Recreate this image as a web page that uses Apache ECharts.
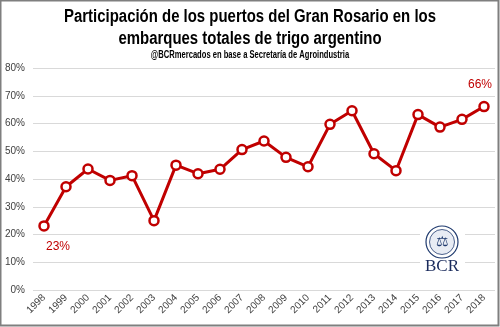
<!DOCTYPE html>
<html><head><meta charset="utf-8">
<script src="https://cdn.jsdelivr.net/npm/echarts@6/dist/echarts.min.js"></script>
<style>html,body{margin:0;padding:0;background:#fff}#c{width:500px;height:327px}</style>
</head><body><div id="c"></div>
<script>
const years = ['1998','1999','2000','2001','2002','2003','2004','2005','2006','2007','2008','2009','2010','2011','2012','2013','2014','2015','2016','2017','2018'];
const share = [23.1,37.2,43.6,39.5,41.2,25.0,45.0,41.9,43.5,50.6,53.7,47.8,44.4,59.7,64.6,49.1,43.0,63.2,58.7,61.5,66.1];
const yTicks = [0,10,20,30,40,50,60,70,80];
const titleLine1 = 'Participación de los puertos del Gran Rosario en los';
const titleLine2 = 'embarques totales de trigo argentino';
const subText = '@BCRmercados en base a Secretaría de Agroindustria';

const chart = echarts.init(document.getElementById('c'), null, {renderer:'canvas'});
const red = '#C00000';
const sans = "'Liberation Sans', Arial, sans-serif";
const dataPts = share.map((v,i)=>{
  const o = {value:v};
  if (i===0) o.label = {show:true, position:'bottom', distance:9, offset:[14,0], formatter:'23%'};
  if (i===share.length-1) o.label = {show:true, position:'top', distance:10, offset:[-4,0], formatter:'66%'};
  return o;
});
chart.setOption({
  animation:false,
  grid:{left:33, right:5, top:68, bottom:37},
  xAxis:{type:'category', data:years, boundaryGap:true,
    axisLine:{show:false}, axisTick:{show:false},
    axisLabel:{rotate:45, fontSize:10, color:'#404040', interval:0, margin:6, fontFamily:sans}},
  yAxis:{type:'value', min:0, max:80, interval:10,
    axisLine:{show:false}, axisTick:{show:false},
    splitLine:{lineStyle:{color:'#d9d9d9', width:1}},
    axisLabel:{formatter:'{value}%', fontSize:10, color:'#404040', margin:8, fontFamily:sans}},
  series:[{type:'line', data:dataPts, symbol:'circle', symbolSize:9, showAllSymbol:true,
    lineStyle:{color:red, width:3}, itemStyle:{color:'#fff', borderColor:red, borderWidth:2.5},
    label:{color:red, fontSize:12, fontWeight:'normal', fontFamily:sans}, z:3}],
  graphic:[
    {type:'text', x:250, y:17, scaleX:0.83, style:{text:titleLine1, x:0, y:0, textAlign:'center', textVerticalAlign:'middle', fontSize:18, fontWeight:'bold', fontFamily:sans, fill:'#000'}, z:5},
    {type:'text', x:250, y:39, scaleX:0.83, style:{text:titleLine2, x:0, y:0, textAlign:'center', textVerticalAlign:'middle', fontSize:18, fontWeight:'bold', fontFamily:sans, fill:'#000'}, z:5},
    {type:'text', x:250, y:55, scaleX:0.76, style:{text:subText, x:0, y:0, textAlign:'center', textVerticalAlign:'middle', fontSize:10, fontWeight:'bold', fontFamily:sans, fill:'#000'}, z:5},
    {type:'rect', shape:{x:420, y:222, width:45, height:54}, style:{fill:'#fff'}, z:1},
    {type:'circle', shape:{cx:442, cy:242, r:16}, style:{fill:'#fff', stroke:'#1f3a6e', lineWidth:1.2}, z:2},
    {type:'circle', shape:{cx:442, cy:242, r:12.5}, style:{fill:'#e8ecf4', stroke:'#1f3a6e', lineWidth:0.8}, z:2},
    {type:'text', style:{text:'⚖', x:442, y:242, textAlign:'center', textVerticalAlign:'middle', fontSize:14, fill:'#1f3a6e'}, z:3},
    {type:'text', style:{text:'BCR', x:442, y:267, textAlign:'center', textVerticalAlign:'middle', fontSize:17, fontFamily:"'Liberation Serif', serif", fill:'#1a2b5c'}, z:3},
    {type:'rect', shape:{x:0.5, y:0.5, width:498, height:325}, style:{fill:'none', stroke:'#7f7f7f', lineWidth:2}, z:10}
  ]
});
</script></body></html>
